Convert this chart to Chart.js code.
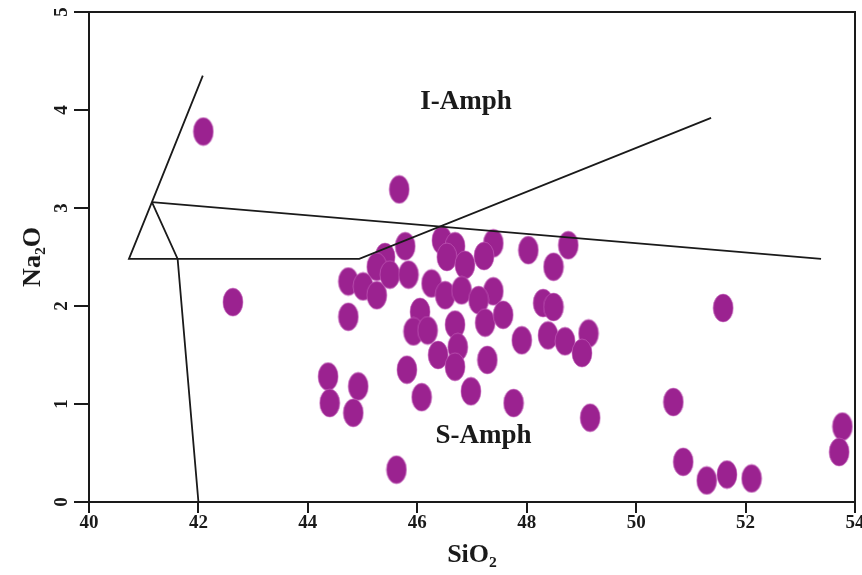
<!DOCTYPE html>
<html><head><meta charset="utf-8">
<script src="https://cdn.jsdelivr.net/npm/chart.js"></script>
<style>html,body{margin:0;padding:0;background:#fff}canvas{display:block}</style>
</head><body>
<canvas id="c" width="862" height="575"></canvas>
<script>
// ---- data ----
const siO2 = [42.09,42.63,45.67,45.78,46.45,46.69,46.54,46.87,47.39,47.22,48.03,48.76,48.49,45.41,45.26,44.74,45.01,45.26,45.50,45.84,46.26,46.51,46.81,47.39,47.12,44.74,46.05,45.93,46.19,46.69,47.24,47.57,46.74,47.91,48.30,48.49,48.39,48.70,49.13,49.01,46.38,46.69,47.28,45.81,44.37,44.40,44.92,44.83,46.08,46.98,47.76,49.16,45.62,51.59,50.68,50.86,51.29,51.66,52.11,53.77,53.71];
const na2O = [3.78,2.04,3.19,2.61,2.67,2.61,2.50,2.42,2.64,2.51,2.57,2.62,2.40,2.50,2.40,2.25,2.20,2.11,2.32,2.32,2.23,2.11,2.16,2.15,2.06,1.89,1.94,1.74,1.75,1.81,1.83,1.91,1.58,1.65,2.03,1.99,1.70,1.64,1.72,1.52,1.50,1.38,1.45,1.35,1.28,1.01,1.18,0.91,1.07,1.13,1.01,0.86,0.33,1.98,1.02,0.41,0.22,0.28,0.24,0.77,0.51];

const lineA_x = [42.08, 41.15, 40.73, 44.94, 51.37];
const lineA_y = [4.35, 3.06, 2.48, 2.48, 3.92];
const lineB_x = [41.15, 41.62, 42.00];
const lineB_y = [3.06, 2.48, 0.00];
const lineC_x = [41.15, 53.38];
const lineC_y = [3.06, 2.48];

const xTicks = [40, 42, 44, 46, 48, 50, 52, 54];
const yTicks = [0, 1, 2, 3, 4, 5];

const fieldLabels = ['I-Amph', 'S-Amph'];
const fieldX = [46.89, 47.21];
const fieldY = [4.08, 0.67];

// ---- styles ----
const F = '"Liberation Serif", "Times New Roman", serif';
const INK = '#1a1a1a';
const PURPLE = '#9B2290';

function ellipseMarker() {
  const c = document.createElement('canvas');
  c.width = 22; c.height = 30;
  const g = c.getContext('2d');
  g.beginPath();
  g.ellipse(11, 15, 10, 14, 0, 0, Math.PI * 2);
  g.fillStyle = PURPLE;
  g.fill();
  g.lineWidth = 0.8;
  g.strokeStyle = 'rgba(205,110,195,0.7)';
  g.stroke();
  return c;
}
const marker = ellipseMarker();

const toXY = (xs, ys) => xs.map((v, i) => ({x: v, y: ys[i]}));
const lineDs = (xs, ys) => ({
  type: 'scatter', data: toXY(xs, ys), showLine: true, pointRadius: 0,
  borderColor: INK, borderWidth: 1.8, fill: false, order: 0, clip: false
});

const fieldText = {
  id: 'fieldText',
  afterDatasetsDraw(chart) {
    const {ctx, scales: {x, y}} = chart;
    ctx.save();
    ctx.font = 'bold 27px ' + F;
    ctx.fillStyle = INK;
    ctx.textAlign = 'center';
    ctx.textBaseline = 'middle';
    fieldLabels.forEach((t, i) => ctx.fillText(t, x.getPixelForValue(fieldX[i]), y.getPixelForValue(fieldY[i])));
    ctx.restore();
  }
};

const tickFont = {family: F, size: 19, weight: 'bold', lineHeight: 1};
const titleFont = {family: F, size: 26, weight: 'bold', lineHeight: 1.2};

new Chart(document.getElementById('c'), {
  type: 'scatter',
  data: {
    datasets: [
      lineDs(lineA_x, lineA_y),
      lineDs(lineB_x, lineB_y),
      lineDs(lineC_x, lineC_y),
      {
        type: 'scatter', data: toXY(siO2, na2O), pointStyle: marker,
        pointRadius: 12, pointHoverRadius: 12, order: 1, clip: false
      }
    ]
  },
  options: {
    responsive: false,
    animation: false,
    devicePixelRatio: 1,
    layout: {autoPadding: false, padding: {left: 0, right: 7, top: 12, bottom: 0}},
    plugins: {legend: {display: false}, tooltip: {enabled: false}},
    scales: {
      x: {
        type: 'linear', position: 'bottom', min: 40, max: 54,
        afterBuildTicks: s => { s.ticks = xTicks.map(v => ({value: v})); },
        afterFit: s => { s.height = 73; s.paddingLeft = 0; s.paddingRight = 0; },
        ticks: {font: tickFont, color: INK, padding: 1, minRotation: 0, maxRotation: 0, autoSkip: false},
        grid: {display: true, drawOnChartArea: false, drawTicks: true, tickLength: 11, color: INK, lineWidth: 2},
        border: {display: true, color: INK, width: 2},
        title: {display: true, text: 'SiO₂', font: titleFont, color: INK, padding: {top: 0, bottom: 4}}
      },
      y: {
        type: 'linear', position: 'left', min: 0, max: 5,
        afterBuildTicks: s => { s.ticks = yTicks.map(v => ({value: v})); },
        afterFit: s => { s.width = 89; s.paddingTop = 0; s.paddingBottom = 0; },
        ticks: {font: tickFont, color: INK, padding: 7, minRotation: 90, maxRotation: 90, crossAlign: 'center', autoSkip: false},
        grid: {display: true, drawOnChartArea: false, drawTicks: true, tickLength: 15, color: INK, lineWidth: 2},
        border: {display: true, color: INK, width: 2},
        title: {display: true, text: 'Na₂O', font: titleFont, color: INK, padding: {top: 18, bottom: 0}}
      },
      x2: {
        type: 'linear', position: 'top', min: 40, max: 54,
        ticks: {display: false}, grid: {display: false},
        border: {display: true, color: INK, width: 2},
        afterFit: s => { s.height = 0; s.paddingLeft = 0; s.paddingRight = 0; }
      },
      y2: {
        type: 'linear', position: 'right', min: 0, max: 5,
        ticks: {display: false}, grid: {display: false},
        border: {display: true, color: INK, width: 2},
        afterFit: s => { s.width = 0; s.paddingTop = 0; s.paddingBottom = 0; }
      }
    }
  },
  plugins: [fieldText]
});
</script>
</body></html>
